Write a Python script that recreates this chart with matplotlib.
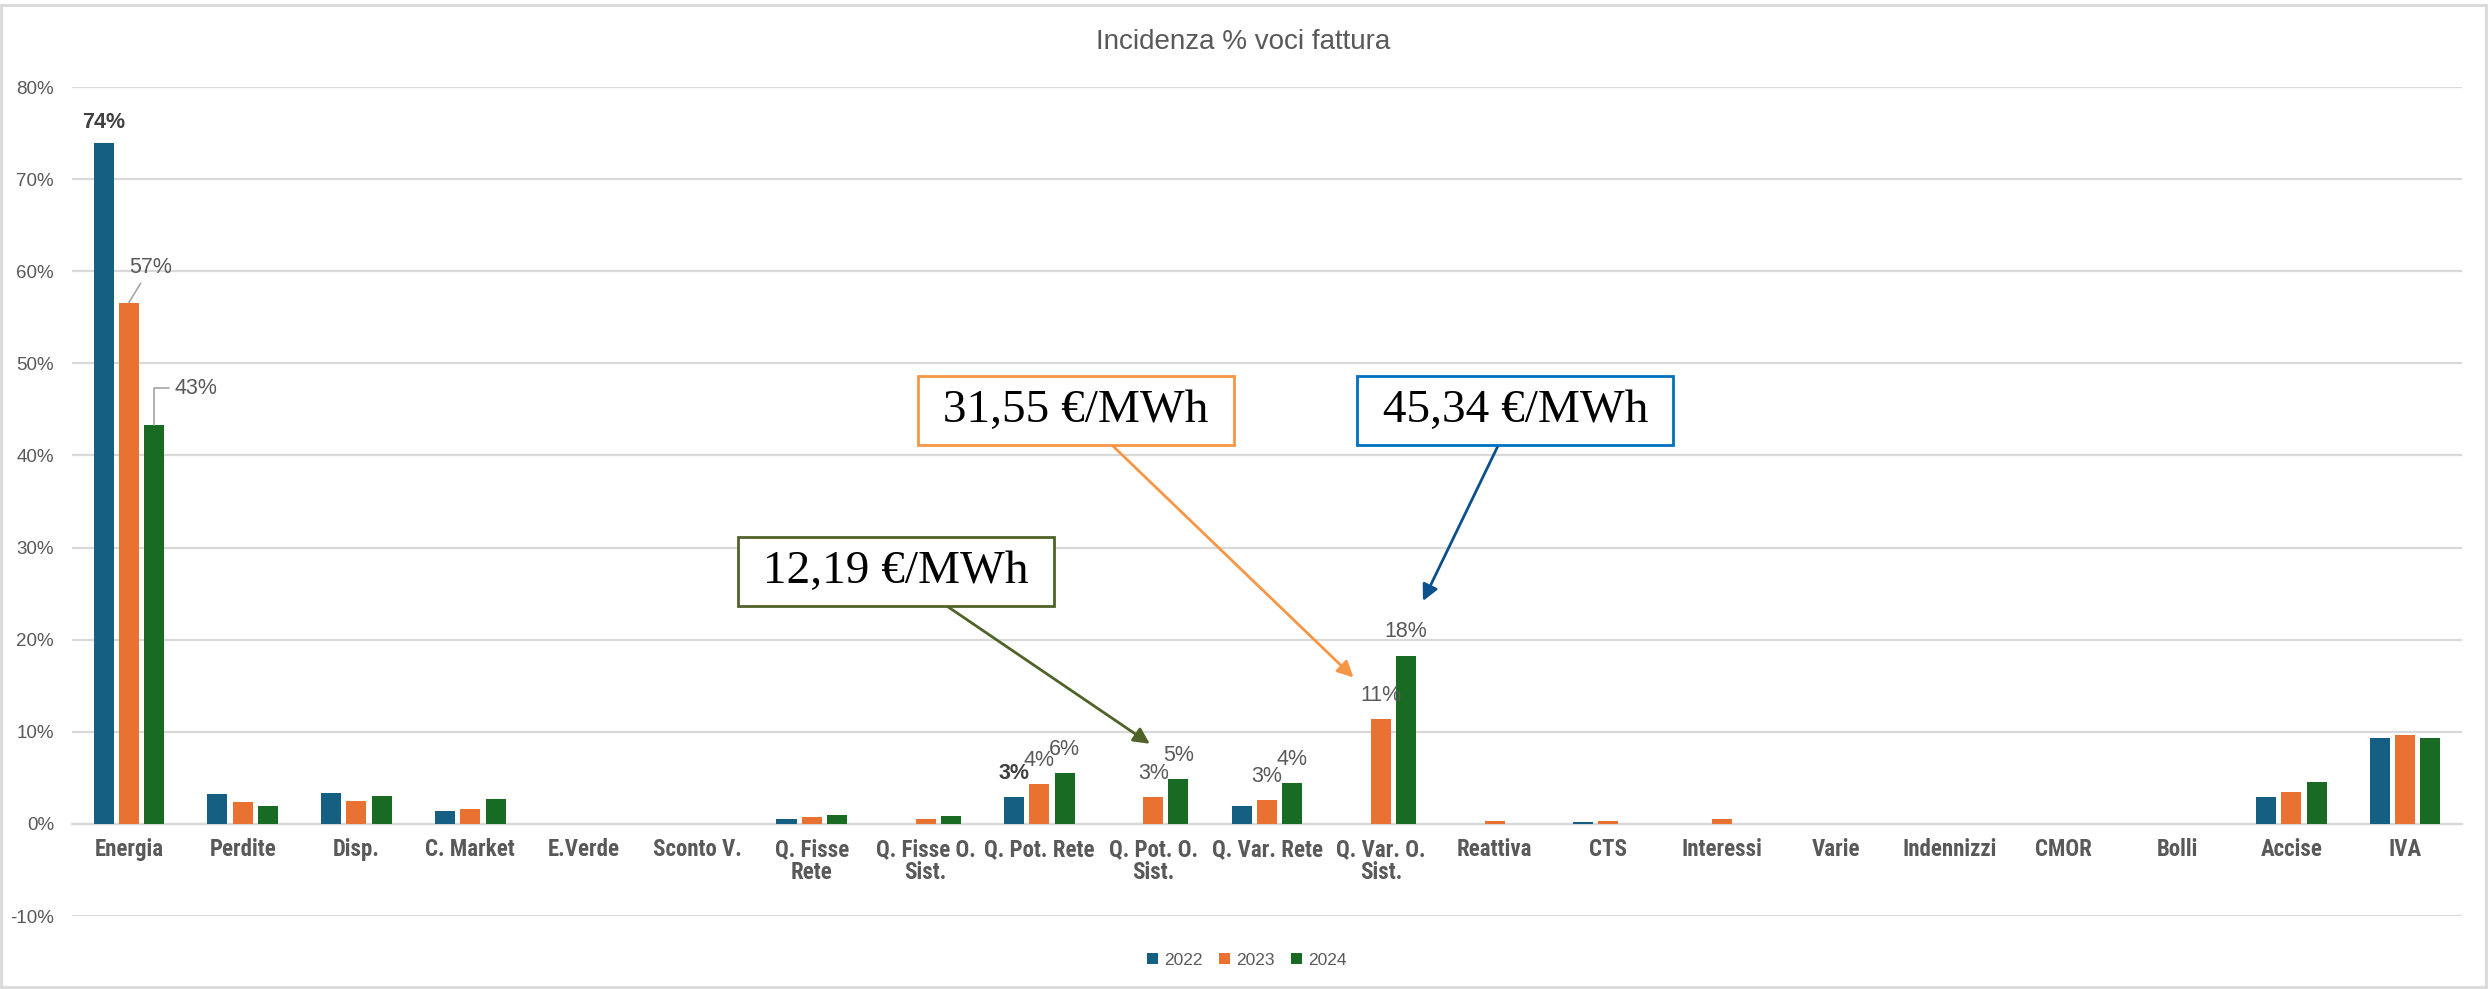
import numpy as np
import matplotlib
matplotlib.use("Agg")
import matplotlib.pyplot as plt
from matplotlib.patches import Rectangle

# Categories and values (% of the bill)
categories = ["Energia", "Perdite", "Disp.", "C. Market", "E.Verde", "Sconto V.",
              "Q. Fisse\nRete", "Q. Fisse O.\nSist.", "Q. Pot. Rete", "Q. Pot. O.\nSist.",
              "Q. Var. Rete", "Q. Var. O.\nSist.", "Reattiva", "CTS", "Interessi",
              "Varie", "Indennizzi", "CMOR", "Bolli", "Accise", "IVA"]
years = ["2022", "2023", "2024"]
v2022 = [73.9, 3.2, 3.4, 1.35, 0, 0, 0.49, 0, 2.95, 0, 1.98, 0, 0, 0.19, 0, 0, 0, 0, 0, 2.95, 9.37]
v2023 = [56.6, 2.4, 2.5, 1.67, 0, 0, 0.71, 0.49, 4.29, 2.95, 2.57, 11.34, 0.3, 0.3, 0.52, 0, 0, 0, 0, 3.5, 9.63]
v2024 = [43.3, 1.92, 2.98, 2.73, 0, 0, 0.97, 0.82, 5.56, 4.89, 4.40, 18.28, 0, 0, 0, 0, 0, 0, 0, 4.55, 9.37]
colors = ["#156082", "#E97132", "#196B24"]

# data labels shown: (category index, series index, text, bold)
labels_shown = [(8, 0, "3%", True), (8, 1, "4%", False), (8, 2, "6%", False),
                (9, 1, "3%", False), (9, 2, "5%", False),
                (10, 1, "3%", False), (10, 2, "4%", False),
                (11, 1, "11%", False), (11, 2, "18%", False)]

# price callouts: text, edge colour, arrow colour, box centre, arrow tip (data)
callouts = [(" 12,19 €/MWh ", "#4F6228", "#4F6228", (6.74, 27.4), (8.97, 8.7)),
            (" 31,55 €/MWh ", "#F79646", "#F79646", (8.32, 44.9), (10.76, 15.9)),
            (" 45,34 €/MWh ", "#0070C0", "#0B4F8C", (12.18, 44.9), (11.37, 24.2))]

grey = "#595959"
plt.rcParams['font.family'] = ['Liberation Sans', 'DejaVu Sans']

fig = plt.figure(figsize=(24.89, 9.89), dpi=100)
ax = fig.add_axes([0.0289, 0.0738, 0.9603, 0.8382])

x = np.arange(len(categories))
step = 0.222
width = 0.176
series = [v2022, v2023, v2024]
bars = []
for i, vals in enumerate(series):
    b = ax.bar(x + (i - 1) * step, vals, width, color=colors[i], label=years[i], zorder=3)
    bars.append(b)

ax.set_xlim(-0.5, len(categories) - 0.5)
ax.set_ylim(-10, 80)
ax.set_yticks(np.arange(-10, 81, 10))
ax.set_yticklabels([f"{v}%" for v in range(-10, 81, 10)])
ax.grid(axis='y', color="#D9D9D9", lw=1.6, zorder=0)
ax.set_axisbelow(True)
for s in ["top", "right", "left"]:
    ax.spines[s].set_visible(False)
ax.spines["bottom"].set_position(("data", 0))
ax.spines["bottom"].set_color("#D9D9D9")
ax.spines["bottom"].set_linewidth(1.6)
ax.tick_params(axis='y', length=0, pad=13, labelsize=13.5, labelcolor=grey)
ax.tick_params(axis='x', length=0, pad=10)
ax.set_xticks(x)
ax.set_xticklabels(categories, family=['Roboto Condensed', 'Roboto', 'DejaVu Sans'],
                   fontweight='bold', fontsize=16.5, color=grey, linespacing=1.0)

# Energia labels
ax.annotate("74%", (0 - step, v2022[0]), xytext=(0, 15), textcoords='offset points',
            ha='center', va='center', fontsize=15.5, fontweight='bold', color="#404040")
ax.annotate("57%", (0, v2023[0]), xytext=(15.4, 25.2), textcoords='offset points',
            ha='center', va='center', fontsize=15.5, color=grey,
            arrowprops=dict(arrowstyle='-', color="#A6A6A6", lw=1.2, shrinkA=2, shrinkB=0))
ax.annotate("43%", (step, v2024[0]), xytext=(29.8, 26.6), textcoords='offset points',
            ha='center', va='center', fontsize=15.5, color=grey,
            arrowprops=dict(arrowstyle='-', color="#A6A6A6", lw=1.2, shrinkA=2, shrinkB=0,
                            connectionstyle="angle,angleA=0,angleB=90,rad=0"))

for ci, si, txt, bold in labels_shown:
    ax.annotate(txt, (ci + (si - 1) * step, series[si][ci]), xytext=(0, 17),
                textcoords='offset points', ha='center', va='center', fontsize=15.5,
                color="#404040" if bold else grey, fontweight='bold' if bold else 'normal')

for txt, ec, ac, centre, tip in callouts:
    ax.annotate(txt, tip, xytext=centre, textcoords='data', ha='center', va='center',
                fontsize=34, family=['Liberation Serif', 'DejaVu Serif'], color='black',
                zorder=6,
                bbox=dict(boxstyle='square,pad=0.28', fc='white', ec=ec, lw=2),
                arrowprops=dict(arrowstyle='-|>', color=ac, lw=2, mutation_scale=24,
                                shrinkA=0, shrinkB=0))

fig.text(0.4994, 1 - 42 / 989, "Incidenza % voci fattura", ha='center', va='center',
         fontsize=20, color=grey)

fig.legend(handles=bars, labels=years, loc='center', bbox_to_anchor=(0.501, 0.0293),
           ncol=3, frameon=False, fontsize=12.5, labelcolor=grey,
           handlelength=0.62, handleheight=0.62, handletextpad=0.35, columnspacing=0.95)

fig.patches.append(Rectangle((0.0006, 0.002), 0.9982, 0.9925, transform=fig.transFigure,
                             fill=False, ec="#D9D9D9", lw=2))

fig.savefig("out.png", dpi=100)
